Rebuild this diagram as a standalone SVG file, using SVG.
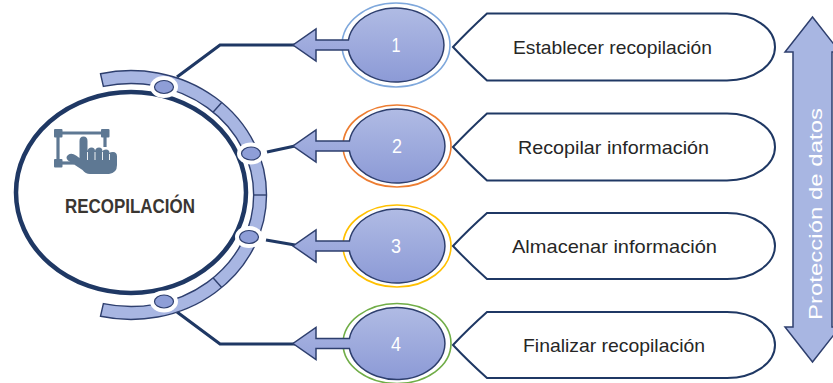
<svg xmlns="http://www.w3.org/2000/svg" width="833" height="383" viewBox="0 0 833 383">
<defs>
<linearGradient id="gb" x1="0" y1="0" x2="0" y2="1">
<stop offset="0" stop-color="#B0BBE4"/>
<stop offset="1" stop-color="#8C9AD6"/>
</linearGradient>
<style>
.conn{fill:none;stroke:#1F3864;stroke-width:3.2;stroke-linejoin:miter}
.pin{fill:url(#gb);stroke:#2E3F6E;stroke-width:1.5}
.ring{fill:#fff;stroke-width:1.6}
.num{font-family:"Liberation Sans",Arial,sans-serif;font-size:20px;fill:#fff;text-anchor:middle}
.lab{fill:#fff;stroke:#1F3864;stroke-width:2}
.labt{font-family:"Liberation Sans",Arial,sans-serif;font-size:19px;fill:#262626;text-anchor:middle}
.band{fill:#A8B6E2;stroke:#2E3F6E;stroke-width:1.4}
.knob{fill:#8E9ED7;stroke:#2E3F6E;stroke-width:1.2}
.icon{fill:#5E7893}
</style>
</defs>
<rect width="833" height="383" fill="#fff"/>

<g id="connectors">
<polyline class="conn" points="177,77 220,45 295,45"/>
<polyline class="conn" points="267,152 295,146"/>
<polyline class="conn" points="266,240 295,245"/>
<polyline class="conn" points="177,312 220,344 295,344"/>
</g>

<g id="hub">
<path class="band" d="M100.5,73.7 A135.5,124.5 0 1 1 100.5,316.3 L103.4,303.6 A122.5,111.5 0 1 0 103.4,86.4 Z"/>
<g stroke="#2E3F6E" stroke-width="1.4">
<line x1="213" y1="112.2" x2="221.7" y2="102.5"/>
<line x1="253.5" y1="195" x2="266.5" y2="195"/>
<line x1="213" y1="277.8" x2="221.7" y2="287.5"/>
</g>
<ellipse cx="131" cy="192.5" rx="115" ry="100.5" fill="#fff" stroke="#1F3864" stroke-width="4.5"/>
<g fill="#fff">
<ellipse cx="164" cy="87" rx="14" ry="11"/>
<ellipse cx="251" cy="153.5" rx="14" ry="11"/>
<ellipse cx="249" cy="237" rx="14" ry="11"/>
<ellipse cx="164" cy="301.5" rx="14" ry="11"/>
</g>
<ellipse class="knob" cx="164" cy="87" rx="9.5" ry="6.5"/>
<ellipse class="knob" cx="251" cy="153.5" rx="9.5" ry="6.5"/>
<ellipse class="knob" cx="249" cy="237" rx="9.5" ry="6.5"/>
<ellipse class="knob" cx="164" cy="301.5" rx="9.5" ry="6.5"/>
<g id="icon">
<g stroke="#5E7893" stroke-width="3.2" fill="none">
<line x1="58" y1="133" x2="105" y2="133"/>
<line x1="58" y1="133" x2="58" y2="163"/>
<line x1="58" y1="163" x2="74" y2="163"/>
<line x1="105" y1="133" x2="105" y2="147"/>
</g>
<rect class="icon" x="54" y="129" width="8.5" height="8.5" rx="1"/>
<rect class="icon" x="101" y="129" width="8.5" height="8.5" rx="1"/>
<rect class="icon" x="54" y="159" width="8.5" height="8.5" rx="1"/>
<path class="icon" d="M79.5,141 Q79.5,136.5 83.5,136.5 Q87.5,136.5 87.5,141 L87.5,151 Q88,147.5 91.5,147.5 Q95,147.5 95,151 Q95.5,147.5 99,147.5 Q102.5,147.5 102.5,151.5 Q103,149.5 106,149.5 Q109.5,149.5 109.5,153 Q110,152 113,152 Q117,152 117,156.5 L117,165 Q117,173 109,174 L90,174 Q85.5,174 82.5,170 L68,160.5 Q65,157.5 68,155 Q71.5,152.5 76,155.5 L79.5,158 Z"/>
<g stroke="#fff" stroke-width="0.9">
<line x1="87.5" y1="152" x2="87.5" y2="160"/>
<line x1="95" y1="152" x2="95" y2="160"/>
<line x1="102.5" y1="152" x2="102.5" y2="160"/>
<line x1="109.5" y1="154" x2="109.5" y2="160"/>
</g>
</g>
<text x="130" y="213" font-family="'Liberation Sans',Arial,sans-serif" font-size="19.5" font-weight="bold" fill="#3A3632" text-anchor="middle" textLength="130" lengthAdjust="spacingAndGlyphs">RECOPILACIÓN</text>
</g>

<g id="step1">
<ellipse class="ring" cx="396" cy="45" rx="54" ry="42" stroke="#7FA8DC"/>
<path class="pin" d="M348.4,40 A48,37 0 1 1 348.4,50 L316,50 L316,61 L293,45 L316,29 L316,40 Z"/>
<text class="num" x="396" y="52" textLength="9" lengthAdjust="spacingAndGlyphs">1</text>
</g>
<g id="step2">
<ellipse class="ring" cx="397" cy="146" rx="54" ry="41" stroke="#ED7D31"/>
<path class="pin" d="M349.4,141 A48,37 0 1 1 349.4,151 L316,151 L316,162 L293,146 L316,130 L316,141 Z"/>
<text class="num" x="397" y="153" textLength="10" lengthAdjust="spacingAndGlyphs">2</text>
</g>
<g id="step3">
<ellipse class="ring" cx="397" cy="246" rx="54" ry="41" stroke="#FFC000"/>
<path class="pin" d="M349.4,241 A48,37 0 1 1 349.4,251 L316,251 L316,262 L293,246 L316,230 L316,241 Z"/>
<text class="num" x="396" y="253" textLength="10" lengthAdjust="spacingAndGlyphs">3</text>
</g>
<g id="step4">
<ellipse class="ring" cx="397" cy="343.5" rx="54" ry="40" stroke="#70AD47"/>
<path class="pin" d="M349.4,338.5 A48,36 0 1 1 349.4,348.5 L316,348.5 L316,359.5 L293,343.5 L316,327.5 L316,338.5 Z"/>
<text class="num" x="396" y="350.5" textLength="10" lengthAdjust="spacingAndGlyphs">4</text>
</g>

<g id="label1">
<path class="lab" d="M487,13.5 L727,13.5 A48,33.5 0 0 1 775,47 A48,33.5 0 0 1 727,80.5 L487,80.5 Q468,63 453,47 Q468,31 487,13.5 Z"/>
<text class="labt" x="612.5" y="54" textLength="199" lengthAdjust="spacingAndGlyphs">Establecer recopilación</text>
</g>
<g id="label2">
<path class="lab" d="M487,113.5 L727,113.5 A48,33.5 0 0 1 775,147 A48,33.5 0 0 1 727,180.5 L487,180.5 Q468,163 453,147 Q468,131 487,113.5 Z"/>
<text class="labt" x="613.5" y="154" textLength="191" lengthAdjust="spacingAndGlyphs">Recopilar información</text>
</g>
<g id="label3">
<path class="lab" d="M487,213 L727,213 A48,33 0 0 1 775,246 A48,33 0 0 1 727,279 L487,279 Q468,262 453,246 Q468,230 487,213 Z"/>
<text class="labt" x="614.5" y="253" textLength="205" lengthAdjust="spacingAndGlyphs">Almacenar información</text>
</g>
<g id="label4">
<path class="lab" d="M487,312 L727,312 A48,33 0 0 1 775,345 A48,33 0 0 1 727,378 L487,378 Q468,361 453,345 Q468,329 487,312 Z"/>
<text class="labt" x="614" y="352" textLength="182" lengthAdjust="spacingAndGlyphs">Finalizar recopilación</text>
</g>

<g id="protection">
<path d="M812.5,17 L840,52 L832,52 L832,327 L840,327 L812.5,362 L785,327 L793,327 L793,52 L785,52 Z" fill="#A8B6E2" stroke="#2E3F6E" stroke-width="1.5"/>
<text transform="translate(822,214) rotate(-90)" font-family="'Liberation Sans',Arial,sans-serif" font-size="18" fill="#fff" text-anchor="middle" textLength="212" lengthAdjust="spacingAndGlyphs">Protección de datos</text>
</g>
</svg>
